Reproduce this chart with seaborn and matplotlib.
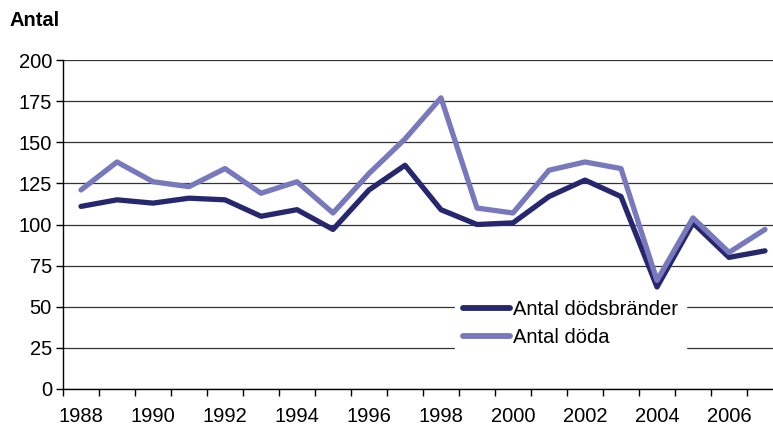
import numpy as np
import pandas as pd
import seaborn as sns
import matplotlib.pyplot as plt

years = list(range(1988, 2008))
dodsbrander = [111, 115, 113, 116, 115, 105, 109, 97, 121, 136,
               109, 100, 101, 117, 127, 117, 62, 101, 80, 84]
doda = [121, 138, 126, 123, 134, 119, 126, 107, 131, 152,
        177, 110, 107, 133, 138, 134, 66, 104, 83, 97]
series_names = ["Antal dödsbränder", "Antal döda"]
tick_years = list(range(1988, 2008, 2))
y_ticks = [0, 25, 50, 75, 100, 125, 150, 175, 200]

df = pd.DataFrame({
    "year": years * 2,
    "value": dodsbrander + doda,
    "serie": [series_names[0]] * len(years) + [series_names[1]] * len(years),
})

sns.set_style("white")
plt.rcParams["font.family"] = ["Liberation Sans", "DejaVu Sans"]
plt.rcParams["text.color"] = "black"
plt.rcParams["xtick.color"] = "black"
plt.rcParams["ytick.color"] = "black"

fig = plt.figure(figsize=(7.73, 4.28), dpi=100)
ax = fig.add_axes([63 / 773, 39 / 428, 720 / 773, 329 / 428])

sns.lineplot(data=df, x="year", y="value", hue="serie",
             palette=["#27276f", "#7878bd"], linewidth=3.8, ax=ax,
             legend=True)

ax.set_xlim(1987.5, 2007.5)
ax.set_ylim(0, 200)
ax.set_yticks(y_ticks)
ax.yaxis.grid(True, color="#333333", linewidth=0.9)
ax.set_axisbelow(True)

ax.set_xticks(tick_years)
ax.set_xticks(np.arange(1987.5, 2008, 1), minor=True)
ax.tick_params(axis="x", which="major", length=0, labelsize=14.5, pad=13,
               labelcolor="black")
ax.tick_params(axis="x", which="minor", length=5, width=1, color="black",
               direction="out", bottom=True)
ax.tick_params(axis="y", length=5, width=1, color="black", direction="out",
               left=True, labelsize=14.5, pad=3, labelcolor="black")

for s in ["top", "right"]:
    ax.spines[s].set_visible(False)
for s in ["left", "bottom"]:
    ax.spines[s].set_color("black")
    ax.spines[s].set_linewidth(1)

ax.set_xlabel("")
ax.set_ylabel("")

leg = ax.legend(loc="upper left", bbox_to_anchor=(0.545, 0.295),
                frameon=True, fontsize=14.5, handlelength=2.3,
                handletextpad=0.15, labelspacing=0.45,
                borderpad=0.4, borderaxespad=0)
leg.get_frame().set_facecolor("white")
leg.get_frame().set_edgecolor("white")
leg.get_frame().set_alpha(1)
leg.get_frame().set_boxstyle("square", pad=0.0)
for line in leg.get_lines():
    line.set_linewidth(4.2)
for t in leg.get_texts():
    t.set_color("black")

fig.text(10 / 773, 1 - 21 / 428, "Antal", fontsize=14.5, fontweight="bold",
         va="center", ha="left", color="black")

fig.savefig("out.png", dpi=100)
